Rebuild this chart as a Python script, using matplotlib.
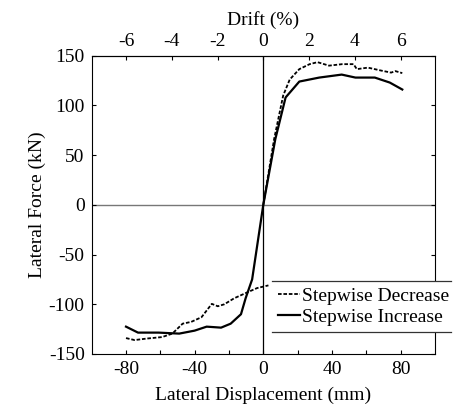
import numpy as np
import matplotlib
matplotlib.use("Agg")
import matplotlib.pyplot as plt
from matplotlib.patches import Rectangle
from matplotlib.lines import Line2D

plt.rcParams["font.family"] = ["Liberation Serif", "DejaVu Serif"]
plt.rcParams["font.size"] = 14
plt.rcParams["axes.unicode_minus"] = False

# envelope curves, displacement (mm) vs force (kN)
dec_disp = [-80, -75, -68, -59, -53, -47, -42, -36, -30, -26.5, -22.7, -17, -9.3, -3.6, 3,
            np.nan,
            0, 6.3, 11.6, 15.4, 21, 27, 31.6, 38.3, 46, 52.6, 54.5, 61, 68.8, 74.5, 77, 81]
dec_force = [-134, -136, -134.5, -133, -129.5, -119.5, -117.7, -113, -99.6, -102, -100, -94, -88, -83.7, -81,
             np.nan,
             0, 66, 110, 126, 136.5, 141.5, 143.5, 140, 141.5, 141.5, 136.5, 138, 135, 133, 134.5, 132.5]

inc_disp = [-80, -73, -61, -49, -40, -33, -24.6, -19, -13, -10.3, -6.5, 0, 7, 13, 21, 32.6, 45.7, 53.7, 65, 73.7, 81]
inc_force = [-122.5, -128.5, -128.5, -129.5, -126.5, -122.5, -123.5, -119.5, -110, -94, -75, 0, 66, 108, 124, 128, 131, 128, 128, 123, 116]

disp_ticks = [-80, -40, 0, 40, 80]
force_ticks = [-150, -100, -50, 0, 50, 100, 150]
drift_ticks = [-6, -4, -2, 0, 2, 4, 6]
mm_per_pct = 80 / 6

fig = plt.figure(figsize=(4.53, 4.12), dpi=100)
ax = fig.add_axes([0.2024, 0.1408, 0.7576, 0.724])

ax.axhline(0, color="#777777", lw=1.0, zorder=1)
ax.axvline(0, color="black", lw=0.9, zorder=1)

ax.plot(dec_disp, dec_force, color="black", lw=1.3, linestyle=(0, (2, 1)), label="Stepwise Decrease")
ax.plot(inc_disp, inc_force, color="black", lw=1.6, label="Stepwise Increase")

ax.set_xlim(-100, 100)
ax.set_ylim(-150, 150)
ax.set_xticks(disp_ticks)
ax.set_xticks(np.arange(-80, 100, 20), minor=True)
ax.set_yticks(force_ticks)
ax.tick_params(direction="in", length=3, width=0.8, right=True, pad=5)
ax.tick_params(which="minor", direction="in", length=3, width=0.8)
for s in ax.spines.values():
    s.set_linewidth(0.8)

ax.set_xlabel("Lateral Displacement (mm)", labelpad=6)
ax.set_ylabel("Lateral Force (kN)", labelpad=2)

top = ax.secondary_xaxis("top", functions=(lambda x: x / mm_per_pct, lambda d: d * mm_per_pct))
top.set_xticks(drift_ticks)
top.tick_params(direction="in", length=3, width=0.8, pad=4)
top.set_xlabel("Drift (%)", labelpad=6)

# legend box with only top and bottom rules
x0, x1 = (272 - 91.7) / 343.3, (451 - 91.7) / 343.3
y0, y1 = (354 - 332) / 298.3, (354 - 281) / 298.3
ax.add_patch(Rectangle((x0, y0), x1 - x0, y1 - y0, transform=ax.transAxes,
                       facecolor="white", edgecolor="none", clip_on=False, zorder=5))
for yy in (y0, y1):
    ax.add_line(Line2D([x0, x1], [yy, yy], transform=ax.transAxes, color="#333333",
                       lw=0.9, clip_on=False, zorder=6))
leg = ax.legend(loc="center left", bbox_to_anchor=(x0 - 0.01, (y0 + y1) / 2), frameon=False,
                handlelength=1.1, handletextpad=0.1, borderpad=0, labelspacing=0.15,
                fontsize=14)
leg.set_zorder(7)

fig.savefig("out.png", dpi=100)
